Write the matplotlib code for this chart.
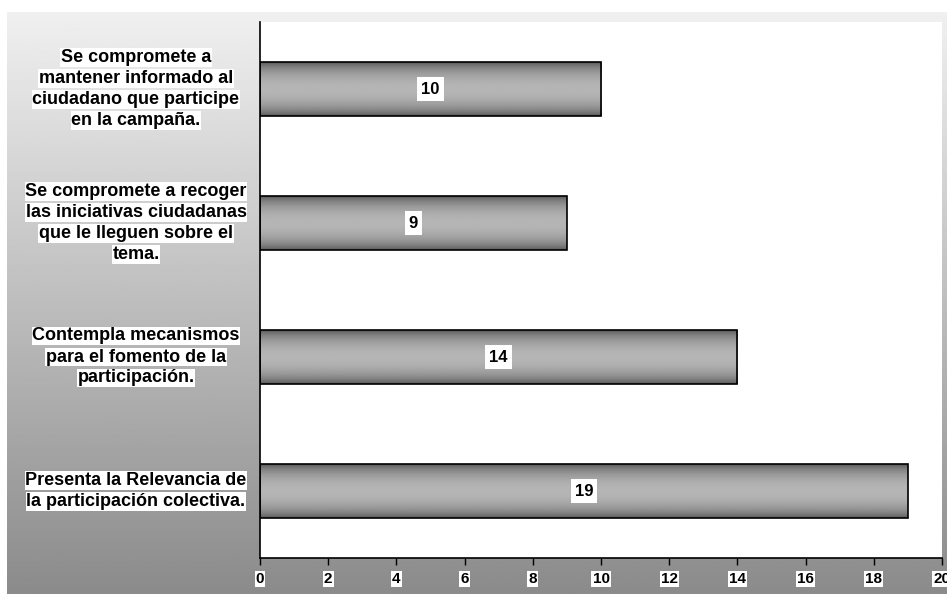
import numpy as np
import matplotlib.pyplot as plt
import matplotlib.transforms as mtransforms

plt.rcParams['font.family'] = ['Liberation Sans', 'DejaVu Sans']

# datos (de arriba hacia abajo)
categorias = [
    ["Se compromete a", "mantener informado al", "ciudadano que participe", "en la campaña."],
    ["Se compromete a recoger", "las iniciativas ciudadanas", "que le lleguen sobre el", "tema."],
    ["Contempla mecanismos", "para el fomento de la", "participación."],
    ["Presenta la Relevancia de", "la participación colectiva."],
]
valores = [10, 9, 14, 19]
ticks_x = [0, 2, 4, 6, 8, 10, 12, 14, 16, 18, 20]

W, H = 947, 594
fig = plt.figure(figsize=(W / 100, H / 100), dpi=100)
fig.patch.set_facecolor("white")

# fondo degradado
bg = fig.add_axes([7 / W, 0, 1 - 7 / W, (H - 12) / H], zorder=0)
grad = np.linspace(0.94, 0.545, 256).reshape(-1, 1)
bg.imshow(grad, aspect="auto", cmap="gray", vmin=0, vmax=1, extent=[0, 1, 0, 1])
bg.set_axis_off()

ax = fig.add_axes([260 / W, (H - 558) / H, (942 - 260) / W, (558 - 22) / H], zorder=1)
ax.set_facecolor("white")

y = np.arange(len(valores))
bars = ax.barh(y, valores, height=0.4, color="none", edgecolor="black", linewidth=1.2, zorder=3)

# sombreado cilindrico de las barras
t = np.linspace(-1, 1, 200)
shade = 0.32 + 0.39 * (1 - t ** 2) ** 0.7
shade = np.clip(shade, 0, 1).reshape(-1, 1)
for b in bars:
    x0, y0 = b.get_x(), b.get_y()
    im = ax.imshow(shade, aspect="auto", cmap="gray", vmin=0, vmax=1,
                   extent=[x0, x0 + b.get_width(), y0, y0 + b.get_height()], zorder=2)
    im.set_clip_path(b)

for yi, v in zip(y, valores):
    ax.text(v / 2, yi, str(v), ha="center", va="center", fontsize=12, fontweight="bold",
            zorder=4, bbox=dict(facecolor="white", edgecolor="none", pad=3))

ax.set_xlim(0, 20)
ax.set_ylim(len(valores) - 0.5, -0.5)
ax.set_xticks(ticks_x)
ax.set_xticklabels([str(t) for t in ticks_x], fontsize=11, fontweight="bold")
for lab in ax.get_xticklabels():
    lab.set_bbox(dict(facecolor="white", edgecolor="none", pad=0.8))
ax.tick_params(axis="x", direction="out", length=5, width=1, pad=5)
ax.set_yticks([])
for s in ["top", "right"]:
    ax.spines[s].set_visible(False)
ax.spines["left"].set_linewidth(1.2)
ax.spines["bottom"].set_linewidth(1.2)

# etiquetas de categorias, cada linea con su caja blanca
trans = mtransforms.blended_transform_factory(fig.transFigure, ax.transData)
paso = 21 * 72 / 100
for yi, lineas in zip(y, categorias):
    n = len(lineas)
    for i, linea in enumerate(lineas):
        off = ((n - 1) / 2 - i) * paso
        ax.annotate(linea, xy=(136 / W, yi), xycoords=trans, xytext=(0, off),
                    textcoords="offset points", ha="center", va="center",
                    fontsize=13, fontweight="bold", annotation_clip=False,
                    bbox=dict(facecolor="white", edgecolor="none", pad=0.5))

fig.savefig("out.png", dpi=100)
